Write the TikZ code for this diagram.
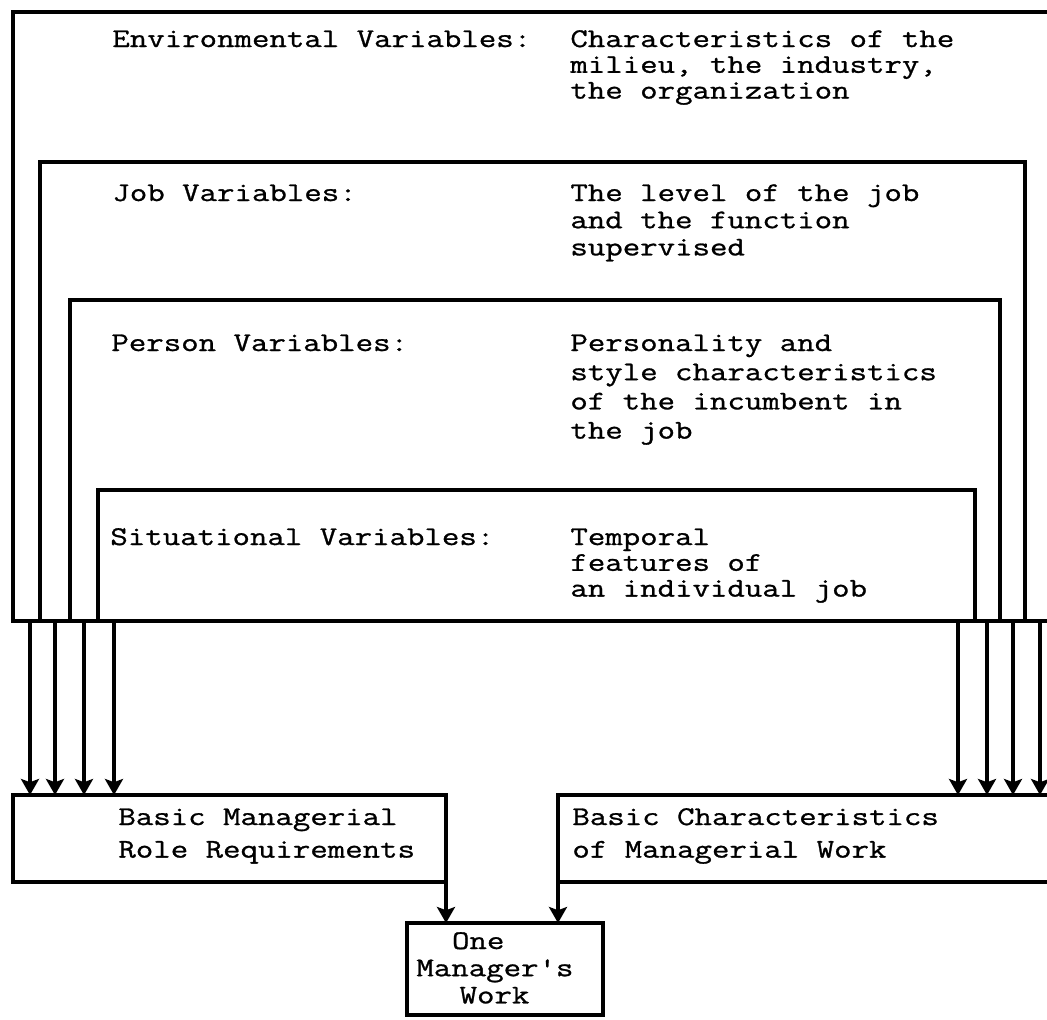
\documentclass[tikz,border=0pt]{standalone}
\usepackage{fontspec}
\usetikzlibrary{arrows.meta}
% typewriter face, widened to a typewriter pitch
\newfontfamily\tw{Latin Modern Mono}[FakeStretch=1.255,FakeBold=1]
% stack of left-aligned lines; the box baseline is that of the first line
\newcommand\lines[2]{\vtop{\baselineskip=#1\lineskip=0pt\lineskiplimit=-\maxdimen
  \halign{##\hfil\cr#2\crcr}}}
\begin{document}
\begin{tikzpicture}[x=0.5pt,y=-0.5pt,
  frame/.style={draw,line width=2.2pt,inner sep=0pt,outer sep=0pt,anchor=north west},
  txt/.style={inner sep=0pt,anchor=base west,font=\tw\fontsize{13.5}{14}\selectfont},
  flow/.style={line width=1.8pt,-{Stealth[length=8pt,width=9pt,inset=1.6pt]}}]
\useasboundingbox (0,0) rectangle (1047,1019);

% nested frames, all closed by the common bottom line
\node[frame,minimum width=523.5pt,minimum height=304.5pt] (env) at (13,12) {};
\node[frame,minimum width=492.5pt,minimum height=229.5pt] (job) at (40,162) {};
\node[frame,minimum width=465pt,minimum height=160.5pt] (per) at (70,300) {};
\node[frame,minimum width=438.5pt,minimum height=65.5pt] (sit) at (98,490) {};

% frame texts
\node[txt] (envl) at (112,47) {Environmental Variables:};
\node[txt] (envd) at (570,47) {\lines{12.9pt}{Characteristics of the\cr milieu, the industry,\cr the organization}};
\node[txt] (jobl) at (112,201) {Job Variables:};
\node[txt] (jobd) at (570,201) {\lines{13.6pt}{The level of the job\cr and the function\cr supervised}};
\node[txt] (perl) at (111,351) {Person Variables:};
\node[txt] (perd) at (570,351) {\lines{14.6pt}{Personality and\cr style characteristics\cr of the incumbent in\cr the job}};
\node[txt] (sitl) at (110,545) {Situational Variables:};
\node[txt] (sitd) at (570,545) {\lines{12.9pt}{Temporal\cr features of\cr an individual job}};

% outcome boxes
\node[frame,minimum width=216.5pt,minimum height=43.5pt] (req) at (13,795) {};
\node[frame,minimum width=251pt,minimum height=43.5pt] (chr) at (558,795) {};
\node[frame,minimum width=98pt,minimum height=46pt] (one) at (407,923) {};

\node[txt] (reqt) at (118,825) {\lines{16.3pt}{Basic Managerial\cr Role Requirements}};
\node[txt] (chrt) at (572,825) {\lines{16.3pt}{Basic Characteristics\cr of Managerial Work}};
\node[txt] (onet) at (416,949) {\lines{13.6pt}{\hspace*{1.32em}One\cr Manager's\cr \hspace*{1.6em}Work}};

% taps on the common bottom line
\coordinate (l1) at (30,621);  \coordinate (l2) at (55,621);
\coordinate (l3) at (84,621);  \coordinate (l4) at (114,621);
\coordinate (r1) at (958,621); \coordinate (r2) at (987,621);
\coordinate (r3) at (1013,621);\coordinate (r4) at (1040,621);

\foreach \c in {l1,l2,l3,l4} \draw[flow] (\c) -- (\c |- req.north);
\foreach \c in {r1,r2,r3,r4} \draw[flow] (\c) -- (\c |- chr.north);

\draw[flow] (req.south east) -- (req.south east |- one.north);
\draw[flow] (chr.south west) -- (chr.south west |- one.north);
\end{tikzpicture}
\end{document}
